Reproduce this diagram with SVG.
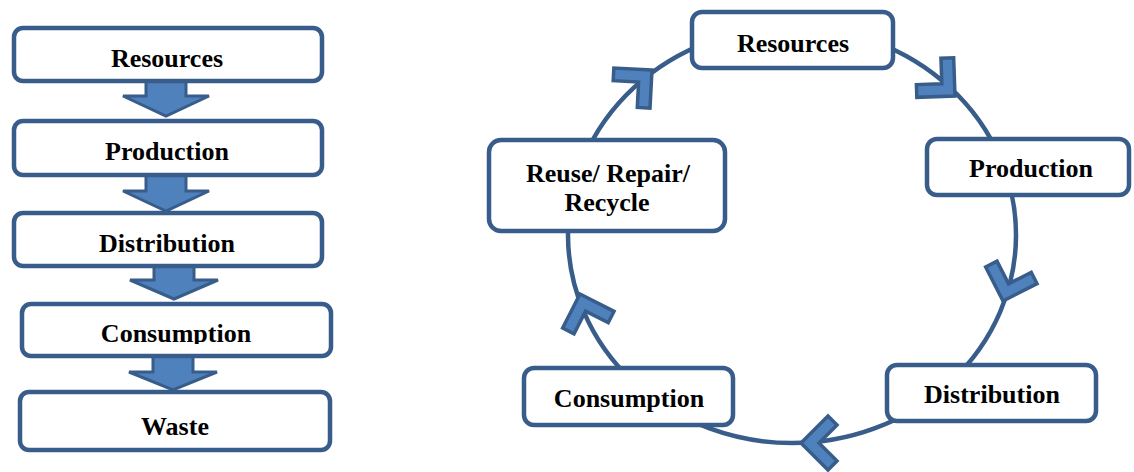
<svg xmlns="http://www.w3.org/2000/svg" xmlns:xlink="http://www.w3.org/1999/xlink" width="1134" height="472" viewBox="0 0 1134 472">
<style>
.box{fill:#ffffff;stroke:#385D8A;stroke-width:4.5}
.lbl{font-family:"Liberation Serif","Times New Roman",serif;font-weight:bold;font-size:26px;fill:#000000;text-anchor:middle}
.blk{fill:#4F81BD;stroke:#385D8A;stroke-width:3;stroke-linejoin:miter}
.ring{fill:none;stroke:#385D8A;stroke-width:4.5}
.chev{fill:#4F81BD;stroke:#385D8A;stroke-width:3.5;stroke-linejoin:miter}
</style>
<defs>
<path id="chev" d="M0,0 L-27,-27 L-36,-18 L-18,0 L-36,18 L-27,27 Z"/>
<clipPath id="clipCons"><rect x="0" y="300" width="340" height="44"/></clipPath>
</defs>
<rect width="1134" height="472" fill="#ffffff"/>
<g id="connectors">
<path class="blk" d="M146,80 H186 V96 H209 L166,116 L123,96 H146 Z"/>
<path class="blk" d="M146,174 H186 V191 H209 L166,211 L123,191 H146 Z"/>
<path class="blk" d="M154,264 H194 V280 H218 L174,299 L130,280 H154 Z"/>
<path class="blk" d="M153,353 H193 V372 H217 L173,390 L129,372 H153 Z"/>
<ellipse class="ring" cx="792" cy="235" rx="224" ry="208"/>
<use xlink:href="#chev" href="#chev" class="chev" transform="translate(652,70) rotate(-42)"/>
<use xlink:href="#chev" href="#chev" class="chev" transform="translate(955,96) rotate(43)"/>
<use xlink:href="#chev" href="#chev" class="chev" transform="translate(1003,301) rotate(108)"/>
<use xlink:href="#chev" href="#chev" class="chev" transform="translate(801,443) rotate(180)"/>
<use xlink:href="#chev" href="#chev" class="chev" transform="translate(580,294) rotate(-108)"/>
</g>
<g id="linear-resources"><rect class="box" x="14" y="28" width="308" height="53" rx="9"/><text class="lbl" x="167" y="67">Resources</text></g>
<g id="linear-production"><rect class="box" x="14" y="121" width="308" height="54" rx="9"/><text class="lbl" x="167" y="160">Production</text></g>
<g id="linear-distribution"><rect class="box" x="14" y="213" width="308" height="53" rx="9"/><text class="lbl" x="167" y="252">Distribution</text></g>
<g id="linear-consumption"><rect class="box" x="22" y="304" width="309" height="52" rx="9"/><text class="lbl" x="176" y="342" clip-path="url(#clipCons)">Consumption</text></g>
<g id="linear-waste"><rect class="box" x="20" y="392" width="310" height="58" rx="9"/><text class="lbl" x="175" y="435">Waste</text></g>
<g id="cycle-resources"><rect class="box" x="692" y="12" width="201" height="56" rx="10"/><text class="lbl" x="793" y="52">Resources</text></g>
<g id="cycle-production"><rect class="box" x="927" y="139" width="202" height="56" rx="10"/><text class="lbl" x="1031" y="177">Production</text></g>
<g id="cycle-distribution"><rect class="box" x="887" y="365" width="209" height="56" rx="10"/><text class="lbl" x="992" y="403">Distribution</text></g>
<g id="cycle-consumption"><rect class="box" x="524" y="368" width="209" height="57" rx="10"/><text class="lbl" x="629" y="407">Consumption</text></g>
<g id="cycle-reuse"><rect class="box" x="489" y="140" width="236" height="91" rx="12"/><text class="lbl" x="608" y="182">Reuse/ Repair/</text><text class="lbl" x="607" y="211">Recycle</text></g>
</svg>
